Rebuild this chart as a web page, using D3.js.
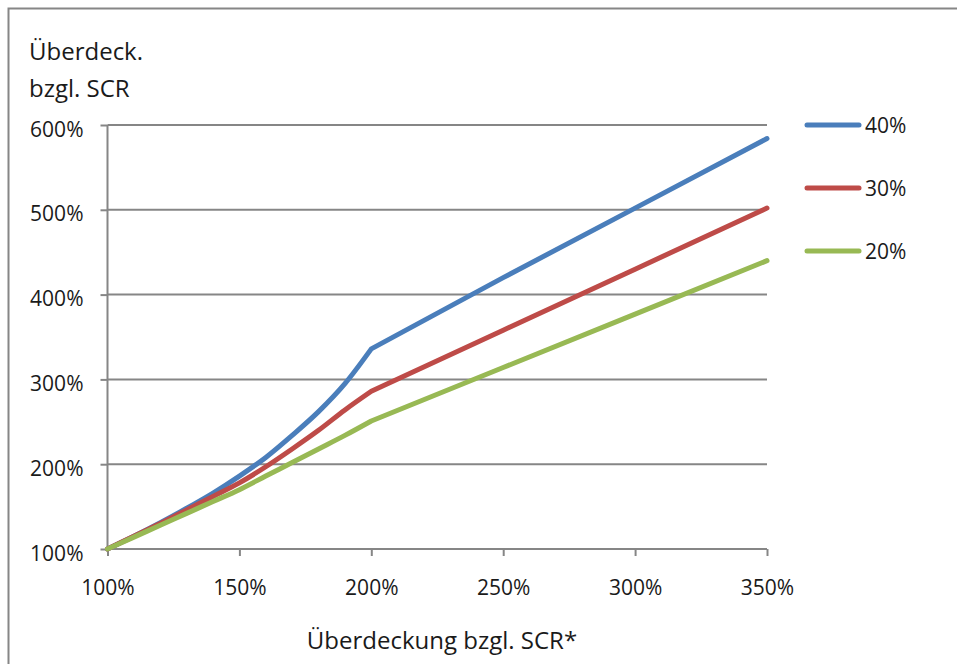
<!DOCTYPE html>
<html>
<head>
<meta charset="utf-8">
<script src="https://cdn.jsdelivr.net/npm/d3@7"></script>
<style>
  html, body { margin: 0; padding: 0; background: #fff; }
  svg text { font-family: "Open Sans", "Noto Sans", sans-serif; fill: #1a1a1a; }
</style>
</head>
<body>
<svg id="chart" width="957" height="664"></svg>
<script>
// ---- data ----
const xValues = [100, 110, 120, 130, 140, 150, 160, 170, 180, 190, 200, 250, 300, 350];
const series40 = [100, 115, 131, 148, 166, 186, 208, 234, 262, 295, 336, 420, 502, 584];
const series30 = [100, 115, 130, 146, 162, 178, 197, 218, 240, 264, 286, 358, 430, 502];
const series20 = [100, 114, 128, 142, 156, 170, 186, 202, 218, 234, 251, 314, 377, 440];
const seriesNames = ["40%", "30%", "20%"];
const seriesColors = ["#4A7EBB", "#BE4B48", "#98B954"];
const xTicks = [100, 150, 200, 250, 300, 350];
const yTicks = [100, 200, 300, 400, 500, 600];
const yTitleLines = ["Überdeck.", "bzgl. SCR"];
const xTitle = "Überdeckung bzgl. SCR*";

const svg = d3.select("#chart");
const x = d3.scaleLinear().domain([100, 350]).range([107.5, 767]);
const y = d3.scaleLinear().domain([100, 600]).range([549, 125]);
const grey = "#868686";
const font = "'Open Sans', 'Noto Sans', sans-serif";

// outer frame
svg.append("rect").attr("x", 8.5).attr("y", 8.5).attr("width", 1000).attr("height", 1000)
  .attr("fill", "none").attr("stroke", grey).attr("stroke-width", 2);

// gridlines
svg.append("g").selectAll("line").data(yTicks.filter(d => d > 100)).join("line")
  .attr("x1", x(100)).attr("x2", x(350))
  .attr("y1", d => y(d)).attr("y2", d => y(d))
  .attr("stroke", grey).attr("stroke-width", 2);

// y axis
const yAxis = svg.append("g").attr("transform", `translate(${x(100)},0)`)
  .call(d3.axisLeft(y).tickValues(yTicks).tickFormat(d => d + "%").tickSize(7).tickPadding(17));
yAxis.select(".domain").attr("stroke", grey).attr("stroke-width", 2).attr("d", `M0,${y(600)}V${y(100)}`);
yAxis.selectAll(".tick line").attr("stroke", grey).attr("stroke-width", 2);
yAxis.selectAll(".tick text").attr("font-size", 21).attr("dy", 11)
  .style("font-family", font).attr("fill", "#1a1a1a");

// x axis
const xAxis = svg.append("g").attr("transform", `translate(0,${y(100)})`)
  .call(d3.axisBottom(x).tickValues(xTicks).tickFormat(d => d + "%").tickSize(7).tickPadding(24));
xAxis.select(".domain").attr("stroke", grey).attr("stroke-width", 2).attr("d", `M${x(100)},0H${x(350)}`);
xAxis.selectAll(".tick line").attr("stroke", grey).attr("stroke-width", 2);
xAxis.selectAll(".tick text").attr("font-size", 21)
  .style("font-family", font).attr("fill", "#1a1a1a");

// lines: smooth part up to 200%, straight part beyond
const allSeries = [series40, series30, series20];
const split = xValues.indexOf(200);
const curved = d3.line().x(d => x(d[0])).y(d => y(d[1])).curve(d3.curveMonotoneX);
const straight = d3.line().x(d => x(d[0])).y(d => y(d[1]));
function pathFor(vals) {
  const pts = xValues.map((xv, i) => [xv, vals[i]]);
  const a = curved(pts.slice(0, split + 1));
  const b = straight(pts.slice(split)).replace(/^M[^L]*/, "");
  return a + b;
}
svg.append("g").selectAll("path").data(allSeries).join("path")
  .attr("d", d => pathFor(d))
  .attr("fill", "none")
  .attr("stroke", (d, i) => seriesColors[i])
  .attr("stroke-width", 5)
  .attr("stroke-linejoin", "round")
  .attr("stroke-linecap", "round");

// legend
const legend = svg.append("g").selectAll("g").data(seriesNames).join("g")
  .attr("transform", (d, i) => `translate(807,${125 + i * 63})`);
legend.append("line").attr("x1", 0).attr("x2", 52).attr("y1", 0).attr("y2", 0)
  .attr("stroke", (d, i) => seriesColors[i]).attr("stroke-width", 5).attr("stroke-linecap", "round");
legend.append("text").attr("x", 58).attr("y", 0).attr("dy", 8).attr("font-size", 21).text(d => d);

// y title
svg.append("g").selectAll("text").data(yTitleLines).join("text")
  .attr("x", 29).attr("y", (d, i) => 60 + i * 37).attr("font-size", 24).text(d => d);

// x title
svg.append("text").attr("x", 442).attr("y", 649).attr("text-anchor", "middle")
  .attr("font-size", 24).text(xTitle);
</script>
</body>
</html>
